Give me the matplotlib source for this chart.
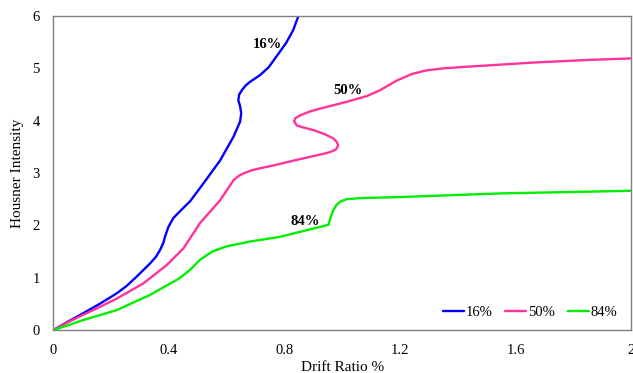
import matplotlib
matplotlib.use("Agg")
import matplotlib.pyplot as plt

# Fragility-style curves: Housner intensity vs. drift ratio
drift_16 = [0.0, 0.05, 0.103, 0.16, 0.219, 0.255, 0.288, 0.334, 0.355, 0.369, 0.380,
            0.386, 0.398, 0.415, 0.44, 0.473, 0.519, 0.577, 0.623, 0.646, 0.650, 0.646,
            0.640, 0.643, 0.652, 0.665, 0.680, 0.715, 0.745, 0.775, 0.805, 0.830, 0.848]
hi_16 = [0.0, 0.16, 0.32, 0.50, 0.70, 0.85, 1.02, 1.27, 1.40, 1.53, 1.66,
         1.78, 1.97, 2.14, 2.28, 2.46, 2.80, 3.24, 3.69, 3.98, 4.14, 4.28,
         4.39, 4.50, 4.58, 4.67, 4.74, 4.87, 5.02, 5.25, 5.48, 5.73, 6.0]

drift_50 = [0.0, 0.05, 0.103, 0.16, 0.219, 0.311, 0.392, 0.45, 0.507, 0.577, 0.623,
            0.640, 0.657, 0.685, 0.715, 0.75, 0.865, 0.930, 0.958, 0.978, 0.986, 0.980,
            0.969, 0.940, 0.900, 0.865, 0.842, 0.833, 0.838, 0.854, 0.885, 0.923, 1.015,
            1.085, 1.13, 1.19, 1.24, 1.29, 1.35, 1.43, 1.66, 1.85, 2.0]
hi_50 = [0.0, 0.15, 0.29, 0.44, 0.60, 0.89, 1.24, 1.56, 2.04, 2.48, 2.86,
         2.94, 2.99, 3.05, 3.09, 3.13, 3.28, 3.36, 3.40, 3.45, 3.53, 3.60,
         3.66, 3.74, 3.82, 3.87, 3.91, 3.99, 4.05, 4.10, 4.17, 4.23, 4.36,
         4.47, 4.58, 4.77, 4.89, 4.96, 5.00, 5.03, 5.11, 5.16, 5.19]

drift_84 = [0.0, 0.05, 0.103, 0.219, 0.334, 0.437, 0.475, 0.507, 0.55, 0.60, 0.68,
            0.784, 0.952, 0.960, 0.969, 0.980, 0.992, 1.015, 1.061, 1.20, 1.546, 2.0]
hi_84 = [0.0, 0.09, 0.19, 0.38, 0.67, 0.99, 1.16, 1.34, 1.50, 1.60, 1.69,
         1.78, 2.01, 2.16, 2.29, 2.39, 2.45, 2.50, 2.52, 2.54, 2.61, 2.66]

series_labels = ["16%", "50%", "84%"]
series_colors = ["#0000FF", "#FF3399", "#00EE00"]

x_ticks = [0, 0.4, 0.8, 1.2, 1.6, 2]
x_tick_labels = ["0", "0.4", "0.8", "1.2", "1.6", "2"]
y_ticks = [0, 1, 2, 3, 4, 5, 6]

plt.rcParams["font.family"] = ["Liberation Serif", "DejaVu Serif"]

fig = plt.figure(figsize=(6.33, 3.73), dpi=100)
ax = fig.add_axes([0.0845, 0.1153, 0.9125, 0.8418])

for xs, ys, lab, col in zip([drift_16, drift_50, drift_84], [hi_16, hi_50, hi_84],
                            series_labels, series_colors):
    ax.plot(xs, ys, color=col, lw=1.7, label=lab, solid_joinstyle="round",
            solid_capstyle="round")

ax.set_xlim(0, 2)
ax.set_ylim(0, 6)
ax.set_xticks(x_ticks)
ax.set_xticklabels(x_tick_labels)
ax.set_yticks(y_ticks)
ax.tick_params(axis="x", length=0, labelsize=10.5, pad=10)
ax.tick_params(axis="y", length=0, labelsize=10.5, pad=10)
for sp in ax.spines.values():
    sp.set_color("#808080")
    sp.set_linewidth(1.0)

ax.set_xlabel("Drift Ratio %", fontsize=11, labelpad=3)
ax.set_ylabel("Housner Intensity", fontsize=11, labelpad=6)

# curve annotations
ax.text(0.741, 5.45, "16%", fontsize=10.5, fontweight="bold", ha="center", va="center")
ax.text(1.019, 4.58, "50%", fontsize=10.5, fontweight="bold", ha="center", va="center")
ax.text(0.873, 2.07, "84%", fontsize=10.5, fontweight="bold", ha="center", va="center")

ax.legend(loc="lower right", ncol=3, frameon=False, fontsize=10.5,
          handlelength=1.45, handletextpad=0.1, columnspacing=0.9,
          borderaxespad=0.0, bbox_to_anchor=(0.986, 0.015))

fig.savefig("out.png", dpi=100)
